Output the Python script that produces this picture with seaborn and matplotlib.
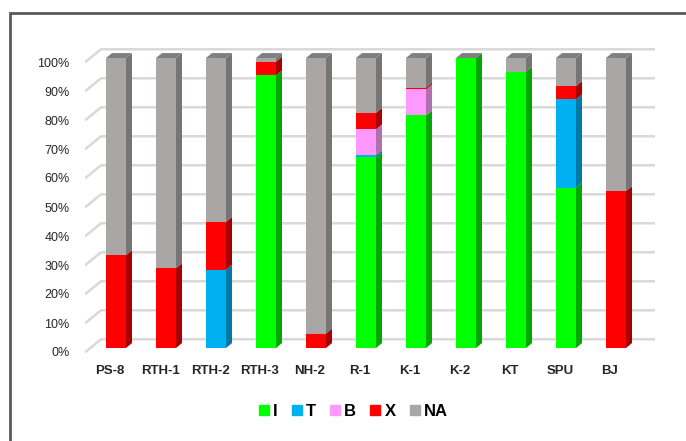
import numpy as np
import pandas as pd
import matplotlib.pyplot as plt
import seaborn as sns
from matplotlib.patches import Polygon, Rectangle
from matplotlib.lines import Line2D
from matplotlib.transforms import ScaledTranslation

# data (percent of each sample)
categories = ['PS-8', 'RTH-1', 'RTH-2', 'RTH-3', 'NH-2', 'R-1', 'K-1', 'K-2', 'KT', 'SPU', 'BJ']
series = ['I', 'T', 'B', 'X', 'NA']
I_vals = [0, 0, 0, 94, 0, 65.7, 80.2, 100, 95.3, 55.3, 0]
T_vals = [0, 0, 27, 0, 0, 0.8, 0, 0, 0, 30.4, 0]
B_vals = [0, 0, 0, 0, 0, 8.9, 9.0, 0, 0, 0, 0]
X_vals = [32, 27.5, 16.5, 4.7, 5, 5.7, 0.6, 0, 0, 4.6, 54.1]
NA_vals = [68, 72.5, 56.5, 1.3, 95, 18.9, 10.2, 0, 4.7, 9.7, 45.9]

front_colors = ['#00FF00', '#00B0F0', '#FF99FF', '#FF0000', '#AAA6A6']
side_colors = ['#00A800', '#0078A8', '#B070B0', '#A80000', '#767474']
top_color = '#7F7F7F'

df = pd.DataFrame({'I': I_vals, 'T': T_vals, 'B': B_vals, 'X': X_vals, 'NA': NA_vals},
                  index=categories)
cum = df.cumsum(axis=1)

plt.rcParams['font.family'] = ['Liberation Sans', 'DejaVu Sans']
fig = plt.figure(figsize=(6.86, 4.41), dpi=100)

# axes placed so that front bar faces map 0..100 onto the picture
ylo, yhi = -2.5, 104.5
px0, px100 = 348, 58
ppu = (px0 - px100) / 100
bot_px = px0 - ylo * ppu
top_px = px100 - (yhi - 100) * ppu
ax = fig.add_axes([85 / 686, (441 - bot_px) / 441, (655 - 85) / 686, (bot_px - top_px) / 441])

xleft, xright = -0.62, 10.78
bar_w = 0.4
dx, dy = 0.12, 1.7      # bar depth
gdx, gdy = 0.32, 3.0    # back wall offset

# gridlines with perspective
for v in range(0, 101, 10):
    ax.plot([xleft, xleft + gdx, xright], [v - 1.5, v + gdy, v + gdy],
            color='#D9D9D9', lw=1.8, zorder=0, solid_capstyle='butt')

# stacked bars: draw cumulative totals from the top series down
for s, c in zip(series[::-1], front_colors[::-1]):
    sns.barplot(x=categories, y=cum[s].values, color=c, saturation=1, width=bar_w,
                errorbar=None, ax=ax, zorder=3, linewidth=0)

# side and top faces for the 3D look
for i, cat in enumerate(categories):
    xr = i + bar_w / 2
    bottom = 0
    for s, sc in zip(series, side_colors):
        h = df.loc[cat, s]
        if h > 0:
            ax.add_patch(Polygon([(xr, bottom), (xr + dx, bottom + dy),
                                  (xr + dx, bottom + h + dy), (xr, bottom + h)],
                                 closed=True, facecolor=sc, edgecolor='none', zorder=2.5))
        bottom += h
    x0 = i - bar_w / 2
    ax.add_patch(Polygon([(x0, bottom), (x0 + dx, bottom + dy),
                          (xr + dx, bottom + dy), (xr, bottom)],
                         closed=True, facecolor=top_color, edgecolor='none', zorder=2.5))

ax.set_xlim(xleft, xright)
ax.set_ylim(ylo, yhi)
ax.set_yticks(range(0, 101, 10))
ax.set_yticklabels([f'{v}%' for v in range(0, 101, 10)], fontsize=9, color='#262626')
ax.set_xticks(range(len(categories)))
ax.set_xticklabels(categories, fontsize=9.5, fontweight='bold', color='#262626')
ax.tick_params(axis='y', length=0, pad=11)
ax.tick_params(axis='x', length=0, pad=7)
ax.set_xlabel('')
ax.set_ylabel('')
for sp in ax.spines.values():
    sp.set_visible(False)
ax.set_facecolor('none')

# nudge labels like the perspective of the original
for lab in ax.get_yticklabels():
    lab.set_transform(lab.get_transform() + ScaledTranslation(0, -4 / 100, fig.dpi_scale_trans))
for lab in ax.get_xticklabels():
    lab.set_transform(lab.get_transform() + ScaledTranslation(-6 / 100, 0, fig.dpi_scale_trans))

# legend
handles = [Line2D([], [], marker='s', linestyle='none', markersize=7,
                  markerfacecolor=c, markeredgecolor=c) for c in front_colors]
fig.legend(handles, series, loc='center', bbox_to_anchor=(353 / 686, (441 - 411) / 441),
           ncol=5, frameon=False, prop={'size': 12, 'weight': 'bold'},
           handlelength=0.7, handletextpad=0.2, columnspacing=0.8)

# chart border (only left and top edges show in the picture)
fig.add_artist(Rectangle((10 / 686, -0.1), 1.0, (441 - 13) / 441 + 0.1,
                         transform=fig.transFigure, fill=False,
                         edgecolor='#595959', linewidth=2))

fig.savefig('out.png', dpi=100)
